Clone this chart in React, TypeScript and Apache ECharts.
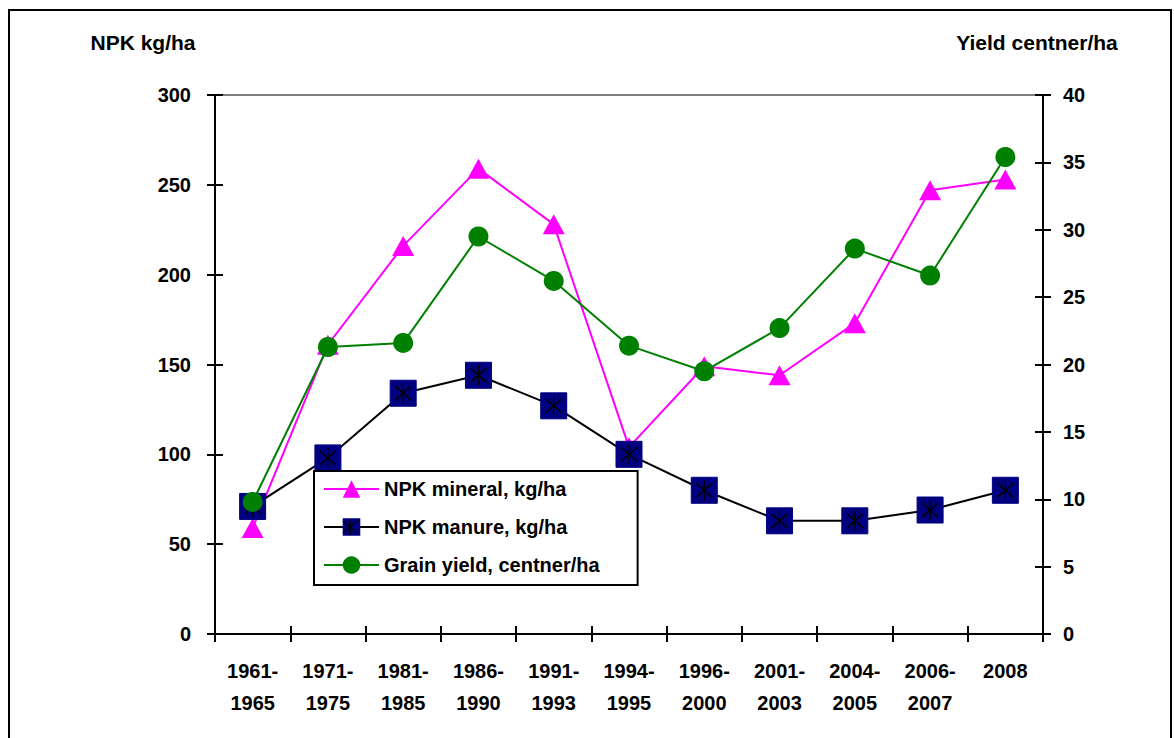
import React, { useEffect, useRef } from "react";
import * as echarts from "echarts";

const categories = [
  "1961-\n1965", "1971-\n1975", "1981-\n1985", "1986-\n1990", "1991-\n1993",
  "1994-\n1995", "1996-\n2000", "2001-\n2003", "2004-\n2005", "2006-\n2007", "2008",
];
const npkMineral = [59, 161, 216, 259, 228, 104, 149, 144, 173, 247, 253];
const npkManure = [71, 98, 134, 144, 127, 100, 80, 63, 63, 69, 80];
const grainYield = [9.8, 21.3, 21.6, 29.5, 26.2, 21.4, 19.5, 22.7, 28.6, 26.6, 35.4];

const leftTitle = "NPK kg/ha";
const rightTitle = "Yield centner/ha";
const FONT = "'Liberation Sans', Arial, sans-serif";

export default function App() {
  const ref = useRef<HTMLDivElement>(null);
  useEffect(() => {
    document.body.style.margin = "0";
    const chart = echarts.init(ref.current!, null, { renderer: "svg" });
    const labelStyle = { color: "#000", fontWeight: "bold" as const, fontSize: 20, fontFamily: FONT };
    const black = { color: "#000", width: 2 };
    const ax = 350, ay = 527;
    const star = { stroke: "#000", lineWidth: 1.5 };
    chart.setOption({
      animation: false,
      backgroundColor: "#fff",
      grid: { left: 215, right: 131, top: 95, bottom: 104 },
      graphic: [
        { type: "rect", shape: { x: 9, y: 10, width: 1162, height: 760 }, style: { fill: "none", stroke: "#000", lineWidth: 2 }, z: -1 },
        { type: "line", shape: { x1: 215, y1: 95, x2: 1043, y2: 95 }, style: { stroke: "#808080", lineWidth: 2 } },
        { type: "text", x: 143, y: 42, style: { text: leftTitle, fill: "#000", font: `bold 21px ${FONT}`, align: "center", verticalAlign: "middle" } },
        { type: "text", x: 1037, y: 42, style: { text: rightTitle, fill: "#000", font: `bold 21px ${FONT}`, align: "center", verticalAlign: "middle" } },
        { type: "line", z: 100, shape: { x1: ax, y1: ay - 8, x2: ax, y2: ay + 8 }, style: star },
        { type: "line", z: 100, shape: { x1: ax - 7, y1: ay - 6, x2: ax + 7, y2: ay + 6 }, style: star },
        { type: "line", z: 100, shape: { x1: ax - 7, y1: ay + 6, x2: ax + 7, y2: ay - 6 }, style: star },
      ],
      legend: {
        orient: "vertical",
        left: 314,
        top: 471,
        data: ["NPK mineral, kg/ha", "NPK manure, kg/ha", "Grain yield, centner/ha"],
        backgroundColor: "#fff",
        borderColor: "#000",
        borderWidth: 2,
        borderRadius: 0,
        padding: [8, 38, 10, 9],
        itemWidth: 55,
        itemHeight: 22,
        itemGap: 18,
        textStyle: labelStyle,
      },
      xAxis: [
        {
          type: "category",
          data: categories,
          boundaryGap: true,
          position: "bottom",
          axisLine: { lineStyle: black },
          axisTick: { show: true, length: 8, lineStyle: black },
          axisLabel: { ...labelStyle, margin: 21, lineHeight: 32, interval: 0 },
          splitLine: { show: false },
        },
        {
          type: "category",
          data: categories,
          boundaryGap: true,
          position: "bottom",
          axisLine: { show: false },
          axisTick: { show: true, inside: true, length: 8, lineStyle: black },
          axisLabel: { show: false },
          splitLine: { show: false },
        },
      ],
      yAxis: [
        {
          type: "value", position: "left", min: 0, max: 300, interval: 50,
          axisLine: { show: true, lineStyle: black },
          axisTick: { show: true, length: 8, lineStyle: black },
          axisLabel: { ...labelStyle, margin: 24 },
          splitLine: { show: false },
        },
        {
          type: "value", position: "right", min: 0, max: 40, interval: 5,
          axisLine: { show: true, lineStyle: black },
          axisTick: { show: true, length: 8, lineStyle: black },
          axisLabel: { ...labelStyle, margin: 20 },
          splitLine: { show: false },
        },
        {
          type: "value", position: "left", min: 0, max: 300, interval: 50,
          axisLine: { show: false },
          axisTick: { show: true, inside: true, length: 8, lineStyle: black },
          axisLabel: { show: false },
          splitLine: { show: false },
        },
        {
          type: "value", position: "right", min: 0, max: 40, interval: 5,
          axisLine: { show: false },
          axisTick: { show: true, inside: true, length: 8, lineStyle: black },
          axisLabel: { show: false },
          splitLine: { show: false },
        },
      ],
      series: [
        {
          name: "NPK mineral, kg/ha",
          type: "line",
          yAxisIndex: 0,
          z: 2,
          data: npkMineral,
          symbol: "triangle",
          symbolSize: [22, 20],
          lineStyle: { color: "#FF00FF", width: 2 },
          itemStyle: { color: "#FF00FF" },
        },
        {
          name: "NPK manure, kg/ha",
          type: "line",
          yAxisIndex: 0,
          z: 3,
          data: npkManure,
          symbol: "rect",
          symbolSize: 26,
          lineStyle: { color: "#000", width: 2 },
          itemStyle: { color: "#000080", borderColor: "#000080" },
        },
        {
          name: "manure-mark",
          type: "scatter",
          yAxisIndex: 0,
          z: 4,
          data: npkManure,
          silent: true,
          symbol: "path://M10,0 L10,20 M1,3 L19,17 M1,17 L19,3",
          symbolSize: [16, 20],
          itemStyle: { color: "rgba(0,0,0,0)", borderColor: "#000", borderWidth: 1.5, opacity: 1 },
        },
        {
          name: "Grain yield, centner/ha",
          type: "line",
          yAxisIndex: 1,
          z: 5,
          data: grainYield,
          symbol: "circle",
          symbolSize: 20,
          lineStyle: { color: "#008000", width: 2 },
          itemStyle: { color: "#008000" },
        },
      ],
    });
    return () => chart.dispose();
  }, []);
  return <div ref={ref} style={{ width: 1174, height: 738 }} />;
}
